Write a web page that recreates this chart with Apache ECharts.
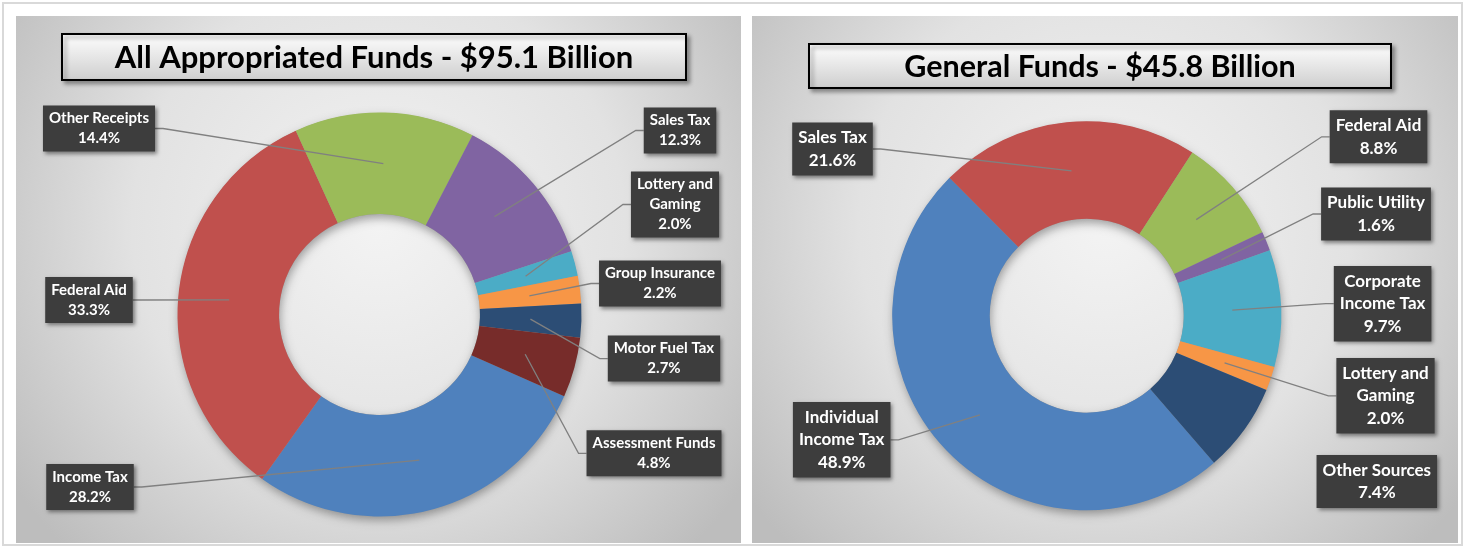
<!DOCTYPE html>
<html>
<head>
<meta charset="utf-8">
<script src="https://cdn.jsdelivr.net/npm/echarts@6/dist/echarts.min.js"></script>
<style>
html, body { margin: 0; padding: 0; background: #fff; }
#chart { width: 1465px; height: 548px; }
</style>
</head>
<body>
<div id="chart"></div>
<script>
// All Appropriated Funds ($95.1 Billion)
const allCategories = ["Income Tax", "Federal Aid", "Other Receipts", "Sales Tax", "Lottery and\nGaming", "Group Insurance", "Motor Fuel Tax", "Assessment Funds"];
const allValues = [28.2, 33.3, 14.4, 12.3, 2.0, 2.2, 2.7, 4.8];

// General Funds ($45.8 Billion)
const generalCategories = ["Individual\nIncome Tax", "Sales Tax", "Federal Aid", "Public Utility", "Corporate\nIncome Tax", "Lottery and\nGaming", "Other Sources"];
const generalValues = [48.9, 21.6, 8.8, 1.6, 9.7, 2.0, 7.4];

const palette = ["#4F81BD", "#C0504D", "#9BBB59", "#8064A2", "#4BACC6", "#F79646", "#2C4D75", "#772C2A"];

// label box centres, same order as the data
const allLabelPos = [[90, 487], [89, 300], [99, 128.5], [680, 130.5], [675, 204.5], [660, 283.5], [664, 358.6], [654, 453.3]];
const generalLabelPos = [[841.7, 439.8], [832.5, 149], [1378.5, 136.8], [1376, 214], [1382.6, 303.7], [1385.5, 395.8], [1376.8, 481.5]];

const chart = echarts.init(document.getElementById("chart"));

function ring(center, radius, startAngle, names, values) {
    return {
        type: "pie",
        z: 2,
        center: center,
        radius: radius,
        startAngle: startAngle,
        silent: true,
        avoidLabelOverlap: false,
        label: { show: false },
        labelLine: { show: false },
        itemStyle: { borderWidth: 0 },
        data: names.map(function (n, i) {
            return { name: n, value: values[i], itemStyle: { color: palette[i] } };
        }),
    };
}

// invisible pie whose rim sits mid-ring, so the leader lines start inside the slices
function labelRing(center, r, startAngle, names, values, pos, font, noLine) {
    return {
        type: "pie",
        z: 4,
        center: center,
        radius: [0, r],
        startAngle: startAngle,
        silent: true,
        avoidLabelOverlap: false,
        itemStyle: { color: "rgba(0,0,0,0)" },
        label: {
            show: true,
            position: "outside",
            formatter: function (p) {
                return p.name + "\n" + p.value.toFixed(1) + "%";
            },
            color: "#fff",
            fontFamily: "Lato",
            fontWeight: "bold",
            fontSize: font.size,
            lineHeight: font.lh,
            padding: font.pad,
            align: "center",
            backgroundColor: "#3d3d3d",
            shadowColor: "rgba(0,0,0,0.45)",
            shadowBlur: 4,
            shadowOffsetX: 2,
            shadowOffsetY: 2,
        },
        labelLine: {
            show: true,
            length: 10,
            length2: 8,
            lineStyle: { color: "#808080", width: 1.3 },
        },
        labelLayout: function (p) {
            return {
                x: pos[p.dataIndex][0],
                y: pos[p.dataIndex][1],
                align: "center",
                verticalAlign: "middle",
            };
        },
        data: names.map(function (n, i) {
            const item = { name: n, value: values[i] };
            if (noLine.indexOf(i) >= 0) item.labelLine = { show: false };
            return item;
        }),
    };
}

function panel(x, y, w, h) {
    return {
        type: "rect",
        shape: { x: x, y: y, width: w, height: h },
        style: {
            fill: {
                type: "radial", x: 0.5, y: 0.4, r: 0.85,
                colorStops: [
                    { offset: 0, color: "#f3f3f3" },
                    { offset: 0.55, color: "#e2e2e2" },
                    { offset: 1, color: "#bdbdbd" },
                ],
            },
        },
    };
}

// soft drop shadow under a doughnut
function ringShadow(cx, cy, r0, r) {
    return {
        type: "ring",
        shape: { cx: cx, cy: cy, r: r, r0: r0 },
        style: {
            fill: "#9a9a9a",
            shadowColor: "rgba(0,0,0,0.35)",
            shadowBlur: 10,
            shadowOffsetX: 1,
            shadowOffsetY: 4,
        },
    };
}

function titleBox(x, y, w, h, text, size) {
    return {
        type: "group",
        children: [
            {
                type: "rect",
                shape: { x: x, y: y, width: w, height: h },
                style: {
                    fill: {
                        type: "linear", x: 0, y: 0, x2: 0, y2: 1,
                        colorStops: [
                            { offset: 0, color: "#ffffff" },
                            { offset: 1, color: "#cdcdcd" },
                        ],
                    },
                    stroke: "#000",
                    lineWidth: 2,
                    shadowColor: "rgba(0,0,0,0.35)",
                    shadowBlur: 4,
                    shadowOffsetX: 3,
                    shadowOffsetY: 3,
                },
            },
            {
                type: "text",
                x: x + w / 2,
                y: y + h / 2 + 1,
                style: {
                    text: text,
                    fill: "#000",
                    font: "bold " + size + "px Lato",
                    align: "center",
                    verticalAlign: "middle",
                },
            },
        ],
    };
}

const leftFont = { size: 15, lh: 20, pad: [3, 6] };
const rightFont = { size: 17, lh: 22.5, pad: [4, 6] };

const option = {
    backgroundColor: "#fff",
    animation: false,
    graphic: [
        { type: "rect", shape: { x: 3, y: 3, width: 1459, height: 542 }, style: { fill: "none", stroke: "#d9d9d9", lineWidth: 2 } },
        panel(16, 16, 725, 527),
        panel(752, 16, 706, 527),
        ringShadow(379.5, 314.5, 100.5, 201.5),
        ringShadow(1086.7, 315.7, 97, 194),
        titleBox(62, 34, 624, 46, "All Appropriated Funds - $95.1 Billion", 31),
        titleBox(809, 44, 582, 44, "General Funds - $45.8 Billion", 30.5),
    ],
    series: [
        ring([379.5, 314.5], [100.5, 202], -23.9, allCategories, allValues),
        labelRing([379.5, 314.5], 151, -23.9, allCategories, allValues, allLabelPos, leftFont, []),
        ring([1086.7, 315.7], [97, 194.5], -49.1, generalCategories, generalValues),
        labelRing([1086.7, 315.7], 145.7, -49.1, generalCategories, generalValues, generalLabelPos, rightFont, [6]),
    ],
};
chart.setOption(option);
</script>
</body>
</html>
